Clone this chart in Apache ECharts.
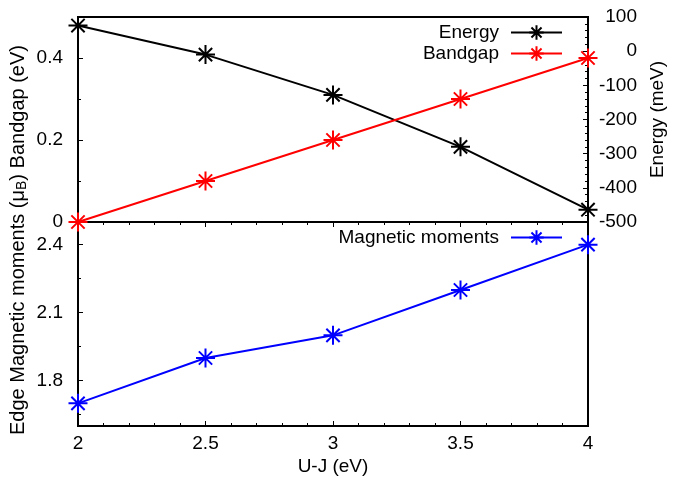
<!DOCTYPE html>
<html>
<head>
<meta charset="utf-8">
<script src="https://cdn.jsdelivr.net/npm/echarts@6/dist/echarts.min.js"></script>
<style>
  html, body { margin: 0; padding: 0; background: #fff; }
  #chart { width: 686px; height: 481px; }
</style>
</head>
<body>
<div id="chart"></div>
<script>
  // U-J values (eV)
  var ujValues = [2, 2.5, 3, 3.5, 4];
  // top panel
  var energy = [75, -10, -128, -280, -464];      // meV, right axis
  var bandgap = [0, 0.1, 0.2, 0.3, 0.4];         // eV, left axis
  // bottom panel
  var moments = [1.70, 1.90, 2.00, 2.20, 2.40];  // mu_B
  var momentTicks = [1.8, 2.1, 2.4];
  var momentMinor = [1.65, 1.95, 2.25];

  var font = 'Liberation Sans, Arial, Helvetica, sans-serif';
  var fs = 19;
  var star = 'path://M5,0L5,10M0,5L10,5M1.5,1.5L8.5,8.5M1.5,8.5L8.5,1.5';

  function pairs(ys) {
    return ujValues.map(function (x, i) { return [x, ys[i]]; });
  }

  function lineSeries(name, color, ys, xi, yi) {
    return {
      name: name,
      type: 'line',
      xAxisIndex: xi,
      yAxisIndex: yi,
      data: pairs(ys),
      symbol: star,
      symbolSize: 19,
      symbolKeepAspect: true,
      clip: false,
      color: color,
      itemStyle: { color: color, borderColor: color, borderWidth: 2 },
      lineStyle: { color: color, width: 2 },
      emphasis: { disabled: true }
    };
  }

  var tickStyle = { color: '#000', width: 1 };
  var labelStyle = { color: '#000', fontSize: fs, fontFamily: font };

  var myChart = echarts.init(document.getElementById('chart'));
  myChart.setOption({
    animation: false,
    textStyle: { fontFamily: font },
    grid: [
      { left: 78, top: 17, width: 510, height: 205, show: true, borderColor: '#000', borderWidth: 2, backgroundColor: 'transparent' },
      { left: 78, top: 222, width: 510, height: 204, show: true, borderColor: '#000', borderWidth: 2, backgroundColor: 'transparent' }
    ],
    legend: [
      {
        data: ['Energy', 'Bandgap'],
        orient: 'vertical',
        right: 123, top: 23,
        align: 'right',
        padding: 0,
        itemWidth: 51, itemHeight: 18, itemGap: 2,
        textStyle: { color: '#000', fontSize: fs, fontFamily: font, padding: [0, 7, 0, 0] }
      },
      {
        data: ['Magnetic moments'],
        right: 123, top: 228,
        align: 'right',
        padding: 0,
        itemWidth: 51, itemHeight: 18,
        textStyle: { color: '#000', fontSize: fs, fontFamily: font, padding: [0, 7, 0, 0] }
      }
    ],
    xAxis: [
      { type: 'value', gridIndex: 0, min: 2, max: 4, interval: 0.5, show: false },
      {
        type: 'value', gridIndex: 1, min: 2, max: 4, interval: 0.5,
        name: 'U-J (eV)', nameLocation: 'middle', nameGap: 31,
        nameTextStyle: labelStyle,
        axisLine: { show: false },
        axisTick: { inside: true, length: 5, lineStyle: tickStyle },
        minorTick: { show: true, splitNumber: 5, length: 3, lineStyle: tickStyle },
        axisLabel: { color: '#000', fontSize: fs, fontFamily: font, margin: 8 },
        splitLine: { show: false }
      },
      {
        type: 'value', gridIndex: 1, min: 2, max: 4, interval: 0.5, position: 'top',
        axisLine: { show: false },
        axisTick: { inside: true, length: 5, lineStyle: tickStyle },
        minorTick: { show: true, splitNumber: 5, length: 3, lineStyle: tickStyle },
        axisLabel: { show: false },
        splitLine: { show: false }
      }
    ],
    yAxis: [
      {
        type: 'value', gridIndex: 0, min: 0, max: 0.5, interval: 0.2, position: 'left',
        axisLine: { show: false },
        axisTick: { inside: true, length: 5, lineStyle: tickStyle },
        minorTick: { show: true, splitNumber: 2, length: 3, lineStyle: tickStyle },
        axisLabel: { color: '#000', fontSize: fs, fontFamily: font, margin: 15, showMaxLabel: false },
        splitLine: { show: false }
      },
      {
        type: 'value', gridIndex: 0, min: -500, max: 100, interval: 100, position: 'right',
        name: 'Energy (meV)', nameLocation: 'middle', nameGap: 54, nameRotate: 90,
        nameTextStyle: labelStyle,
        axisLine: { show: false },
        axisTick: { inside: true, length: 5, lineStyle: tickStyle },
        minorTick: { show: true, splitNumber: 5, length: 3, lineStyle: tickStyle },
        axisLabel: { color: '#000', fontSize: fs, fontFamily: font, margin: 49, align: 'right' },
        splitLine: { show: false }
      },
      {
        type: 'value', gridIndex: 1, min: 1.6, max: 2.5, position: 'left',
        axisLine: { show: false },
        axisTick: { inside: true, length: 5, lineStyle: tickStyle, customValues: momentTicks },
        axisLabel: { color: '#000', fontSize: fs, fontFamily: font, margin: 15, customValues: momentTicks },
        splitLine: { show: false }
      },
      {
        type: 'value', gridIndex: 1, min: 1.6, max: 2.5, position: 'left',
        axisLine: { show: false },
        axisTick: { inside: true, length: 3, lineStyle: tickStyle, customValues: momentMinor },
        axisLabel: { show: false },
        splitLine: { show: false }
      }
    ],
    graphic: [
      {
        type: 'text',
        x: 18, y: 240,
        rotation: Math.PI / 2,
        style: {
          text: 'Edge Magnetic moments (μ{b|B}) Bandgap (eV)',
          fill: '#000',
          fontSize: 20,
          fontFamily: font,
          align: 'center',
          verticalAlign: 'middle',
          rich: {
            b: { fontSize: 14, fontFamily: font, fill: '#000', padding: [9, 0, 0, 0] }
          }
        }
      }
    ],
    series: [
      lineSeries('Energy', '#000000', energy, 0, 1),
      lineSeries('Bandgap', '#ff0000', bandgap, 0, 0),
      lineSeries('Magnetic moments', '#0000ff', moments, 1, 2)
    ]
  });
</script>
</body>
</html>
